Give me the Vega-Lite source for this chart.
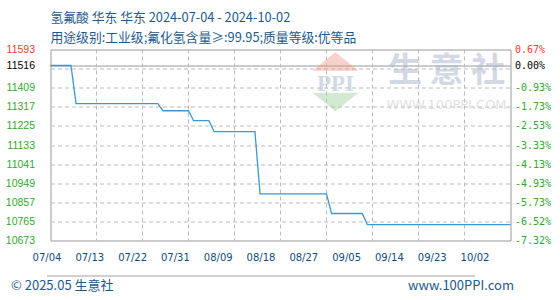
{
  "$schema": "https://vega.github.io/schema/vega-lite/v6.json",
  "width": 460,
  "height": 191,
  "autosize": {"type": "none"},
  "padding": {"left": 50.5, "top": 49.5, "right": 49.5, "bottom": 59.5},
  "background": "#ffffff",
  "config": {
    "view": {"stroke": "#999999", "strokeWidth": 1}
  },
  "title": {
    "text": ["氢氟酸 华东 华东 2024-07-04 - 2024-10-02", "用途级别:工业级;氟化氢含量≥:99.95;质量等级:优等品"],
    "anchor": "start",
    "frame": "group",
    "orient": "top",
    "baseline": "bottom",
    "offset": -13,
    "lineHeight": 20,
    "font": "Noto Sans CJK SC",
    "fontSize": 12.8,
    "fontWeight": "normal",
    "color": "#1e5a8c"
  },
  "datasets": {
    "prices": [
      {"date": "2024/07/04", "price": 11516},
      {"date": "2024/07/08", "price": 11516},
      {"date": "2024/07/09", "price": 11332},
      {"date": "2024/07/25", "price": 11332},
      {"date": "2024/07/26", "price": 11298},
      {"date": "2024/07/31", "price": 11298},
      {"date": "2024/08/01", "price": 11250},
      {"date": "2024/08/04", "price": 11250},
      {"date": "2024/08/05", "price": 11197},
      {"date": "2024/08/13", "price": 11197},
      {"date": "2024/08/14", "price": 10898},
      {"date": "2024/08/27", "price": 10898},
      {"date": "2024/08/28", "price": 10803},
      {"date": "2024/09/03", "price": 10803},
      {"date": "2024/09/04", "price": 10749},
      {"date": "2024/10/02", "price": 10749}
    ],
    "gridDates": [
      {"date": "2024/07/13"},
      {"date": "2024/07/22"},
      {"date": "2024/07/31"},
      {"date": "2024/08/09"},
      {"date": "2024/08/18"},
      {"date": "2024/08/27"},
      {"date": "2024/09/05"},
      {"date": "2024/09/14"},
      {"date": "2024/09/23"}
    ]
  },
  "layer": [
    {
      "layer": [
        {
          "data": {"values": [{}]},
          "mark": {"type": "point", "shape": "M-1,0.4L0,-0.4L1,0.4Z", "filled": true, "size": 2116, "color": "#ec8e7c", "opacity": 0.4, "strokeWidth": 0},
          "encoding": {
            "x": {"datum": {"year": 2024, "month": 8, "date": 28, "hours": 18}, "type": "temporal", "axis": null},
            "y": {"datum": 11535, "type": "quantitative", "axis": null}
          }
        },
        {
          "data": {"values": [{}]},
          "mark": {"type": "point", "shape": "M-1,-0.4L1,-0.4L0,0.4Z", "filled": true, "size": 2116, "color": "#8ccb8c", "opacity": 0.4, "strokeWidth": 0},
          "encoding": {
            "x": {"datum": {"year": 2024, "month": 8, "date": 28, "hours": 18}, "type": "temporal", "axis": null},
            "y": {"datum": 11340, "type": "quantitative", "axis": null}
          }
        },
        {
          "data": {"values": [{}]},
          "mark": {"type": "text", "text": "PPI", "font": "Liberation Serif", "fontSize": 23, "fontWeight": "bold", "color": "#9eafcc", "opacity": 0.45, "baseline": "middle", "align": "center"},
          "encoding": {
            "x": {"datum": {"year": 2024, "month": 8, "date": 28, "hours": 18}, "type": "temporal", "axis": null},
            "y": {"datum": 11427, "type": "quantitative", "axis": null}
          }
        },
        {
          "data": {"values": [{}]},
          "mark": {"type": "text", "text": "生 意 社", "font": "Noto Sans CJK SC", "fontSize": 34, "fontWeight": "bold", "color": "#a9b5cb", "opacity": 0.5, "baseline": "middle", "align": "center"},
          "encoding": {
            "x": {"datum": {"year": 2024, "month": 9, "date": 19, "hours": 12}, "type": "temporal", "axis": null},
            "y": {
              "datum": 11487,
              "type": "quantitative",
              "axis": {
                "orient": "right",
                "values": [10673, 10765, 10857, 10949, 11041, 11133, 11225, 11317, 11409, 11516, 11593],
                "labelExpr": "['-7.32%','-6.52%','-5.73%','-4.93%','-4.13%','-3.33%','-2.53%','-1.73%','-0.93%','0.00%','0.67%'][indexof([10673,10765,10857,10949,11041,11133,11225,11317,11409,11516,11593], datum.value)]",
                "labelFont": "DejaVu Sans Mono",
                "labelFontSize": 10,
                "labelPadding": 4,
                "labelBaseline": "middle",
                "labelOverlap": false,
                "labelFlush": false,
                "labelBound": false,
                "labelColor": {"condition": [{"test": "datum.value === 11593", "value": "#f03c3c"}, {"test": "datum.value === 11516", "value": "#000000"}], "value": "#2eaa2e"},
                "ticks": false,
                "domain": false,
                "grid": false,
                "title": "www.100PPI.com",
                "titleAngle": 0,
                "titleX": 3,
                "titleY": 236,
                "titleAlign": "right",
                "titleBaseline": "middle",
                "titleFont": "Noto Sans CJK SC",
                "titleFontSize": 13,
                "titleFontWeight": "normal",
                "titleColor": "#1e5a8c"
              }
            }
          }
        },
        {
          "data": {"name": "gridDates"},
          "mark": {"type": "rule", "color": "#bbbbbb", "strokeDash": [4, 3], "strokeWidth": 1},
          "encoding": {
            "x": {"field": "date", "type": "temporal", "axis": null}
          }
        },
        {
          "data": {"name": "prices"},
          "mark": {"type": "line", "color": "#3a98d6", "strokeWidth": 1.3, "interpolate": "linear"},
          "encoding": {
            "x": {
              "field": "date",
              "type": "temporal",
              "scale": {"domain": [{"year": 2024, "month": 7, "date": 4}, {"year": 2024, "month": 10, "date": 2}]},
              "axis": null
            },
            "y": {
              "field": "price",
              "type": "quantitative",
              "scale": {"domain": [10673, 11593], "nice": false, "zero": false},
              "axis": {
                "orient": "left",
                "values": [10673, 10765, 10857, 10949, 11041, 11133, 11225, 11317, 11409, 11501, 11516, 11593],
                "format": "d",
                "labelExpr": "datum.value === 11501 ? '' : datum.label",
                "labelFont": "Liberation Sans",
                "labelFontSize": 10.5,
                "labelPadding": 16,
                "labelBaseline": "middle",
                "labelOverlap": false,
                "labelFlush": false,
                "labelBound": false,
                "labelColor": {"condition": [{"test": "datum.value === 11593", "value": "#f03c3c"}, {"test": "datum.value === 11516", "value": "#000000"}], "value": "#2eaa2e"},
                "ticks": false,
                "domain": false,
                "grid": true,
                "gridColor": {"condition": {"test": "datum.value === 11516", "value": "#999999"}, "value": "#bbbbbb"},
                "gridDash": {"condition": {"test": "datum.value === 11516", "value": [1, 0]}, "value": [4, 3]},
                "gridOpacity": {"condition": {"test": "datum.value === 10673 || datum.value === 11593", "value": 0}, "value": 1},
                "title": null
              }
            }
          }
        }
      ],
      "resolve": {"axis": {"y": "independent"}}
    },
    {
      "data": {"values": [{}]},
      "mark": {"type": "text", "text": "WWW.100PPI.COM", "font": "DejaVu Sans", "fontSize": 13, "color": "#d4d4d4", "opacity": 0.7, "baseline": "middle", "align": "center"},
      "encoding": {
        "x": {
          "datum": {"year": 2024, "month": 9, "date": 26, "hours": 2, "minutes": 40},
          "type": "temporal",
          "scale": {"domain": [{"year": 2024, "month": 7, "date": 4}, {"year": 2024, "month": 10, "date": 2}], "range": [-4, 424]},
          "axis": {
            "values": [
              {"year": 2024, "month": 7, "date": 4},
              {"year": 2024, "month": 7, "date": 13},
              {"year": 2024, "month": 7, "date": 22},
              {"year": 2024, "month": 7, "date": 31},
              {"year": 2024, "month": 8, "date": 9},
              {"year": 2024, "month": 8, "date": 18},
              {"year": 2024, "month": 8, "date": 27},
              {"year": 2024, "month": 9, "date": 5},
              {"year": 2024, "month": 9, "date": 14},
              {"year": 2024, "month": 9, "date": 23},
              {"year": 2024, "month": 10, "date": 2}
            ],
            "orient": "bottom",
            "format": "%m/%d",
            "labelFont": "DejaVu Sans",
            "labelFontSize": 10,
            "labelColor": "#0e4c7e",
            "labelAlign": "center",
            "labelFlush": false,
            "labelOverlap": false,
            "labelBound": false,
            "labelBaseline": "middle",
            "labelPadding": -18,
            "offset": 35,
            "ticks": false,
            "domain": true,
            "domainColor": "#a0a0a0",
            "domainWidth": 1,
            "grid": false,
            "title": "© 2025.05 生意社",
            "titleX": -40,
            "titleY": 10,
            "titleAlign": "left",
            "titleAnchor": "start",
            "titleBaseline": "middle",
            "titleFont": "Noto Sans CJK SC",
            "titleFontSize": 13,
            "titleFontWeight": "normal",
            "titleColor": "#1e5a8c"
          }
        },
        "y": {"datum": 11328, "type": "quantitative", "axis": null}
      }
    }
  ],
  "resolve": {"scale": {"x": "independent"}, "axis": {"x": "independent", "y": "independent"}}
}
